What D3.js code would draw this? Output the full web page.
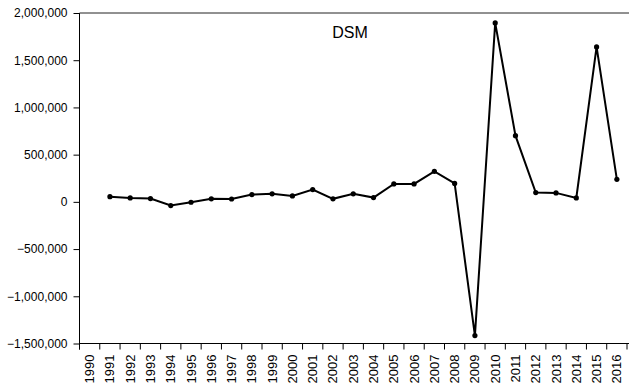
<!DOCTYPE html>
<html>
<head>
<meta charset="utf-8">
<script src="https://cdn.jsdelivr.net/npm/d3@7"></script>
<style>
  body { margin: 0; background: #fff; }
  text { font-family: Arial, "Liberation Sans", sans-serif; fill: #000; }
</style>
</head>
<body>
<svg width="629" height="387"></svg>
<script>
// years on the axis (1990 has no value)
const years = d3.range(1990, 2017).map(String);
const dsmYears = d3.range(1991, 2017).map(String);
const dsm = [
  55000, 42000, 35000, -39000, -4000, 32000, 30000, 77000, 85000, 63000,
  130000, 32000, 85000, 45000, 190000, 190000, 323000, 195000, -1416000,
  1895000, 701000, 98000, 95000, 42000, 1641000, 239000
];
const yTicks = [-1500000, -1000000, -500000, 0, 500000, 1000000, 1500000, 2000000];

const svg = d3.select('svg');
const plotLeft = 79.5, plotRight = 627, plotTop = 13, plotBottom = 343.5;

const x = d3.scaleBand().domain(years).range([plotLeft, plotRight]).padding(0);
const y = d3.scaleLinear().domain([-1500000, 2000000]).range([plotBottom, plotTop]);

// y axis
const yAxis = d3.axisLeft(y)
  .tickValues(yTicks)
  .tickSize(6)
  .tickPadding(6)
  .tickFormat(d3.format(','));
const gy = svg.append('g').attr('transform', `translate(${plotLeft},0)`).call(yAxis);
gy.select('.domain').remove();
gy.selectAll('line').attr('stroke', '#000');
gy.selectAll('text').attr('font-size', 12).attr('font-family', 'Arial, "Liberation Sans", sans-serif');

// x axis: ticks at band edges, labels at band centres
const gx = svg.append('g');
gx.selectAll('line.tk')
  .data(years.concat(['end']))
  .enter()
  .append('line')
  .attr('x1', (d) => (d === 'end' ? plotRight : x(d)))
  .attr('x2', (d) => (d === 'end' ? plotRight : x(d)))
  .attr('y1', plotBottom)
  .attr('y2', plotBottom + 6)
  .attr('stroke', '#000');
gx.selectAll('text')
  .data(years)
  .enter()
  .append('text')
  .attr('transform', (d) => `translate(${x(d) + x.bandwidth() / 2 + 4.5},${plotBottom + 11}) rotate(-90)`)
  .attr('text-anchor', 'end')
  .attr('font-size', 13)
  .text((d) => d);

// frame
svg.append('line').attr('x1', plotLeft).attr('x2', plotLeft).attr('y1', plotTop).attr('y2', plotBottom + 6).attr('stroke', '#000');
svg.append('line').attr('x1', plotLeft).attr('x2', 629).attr('y1', plotBottom).attr('y2', plotBottom).attr('stroke', '#000');
svg.append('line').attr('x1', plotLeft).attr('x2', 629).attr('y1', plotTop).attr('y2', plotTop).attr('stroke', '#222');

// series
const pts = dsmYears.map((yr, i) => ({ yr, v: dsm[i] }));
const line = d3.line()
  .x((d) => x(d.yr) + x.bandwidth() / 2)
  .y((d) => y(d.v));
svg.append('path')
  .datum(pts)
  .attr('d', line)
  .attr('fill', 'none')
  .attr('stroke', '#000')
  .attr('stroke-width', 2);
svg.selectAll('circle')
  .data(pts)
  .enter()
  .append('circle')
  .attr('cx', (d) => x(d.yr) + x.bandwidth() / 2)
  .attr('cy', (d) => y(d.v))
  .attr('r', 2.6)
  .attr('fill', '#000');

// title inside plot
svg.append('text')
  .attr('x', 350)
  .attr('y', 38)
  .attr('text-anchor', 'middle')
  .attr('font-size', 16)
  .text('DSM');
</script>
</body>
</html>
